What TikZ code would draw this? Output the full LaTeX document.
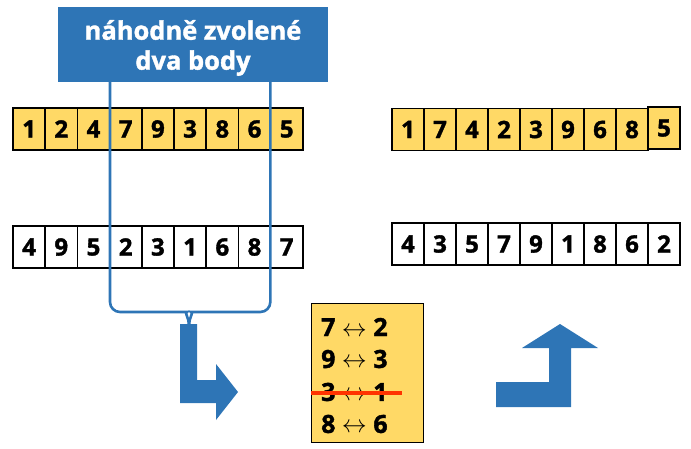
\documentclass[tikz,border=0pt]{standalone}
\usepackage{fontspec}
\setmainfont{Open Sans}
\newfontfamily\heavyfont[BoldFeatures={FakeBold=1.5}]{Open Sans}
\usetikzlibrary{positioning,calc}
\definecolor{cellyel}{HTML}{FFD966}
\definecolor{boxblue}{HTML}{2E75B6}
\definecolor{strikered}{HTML}{FF3300}
\tikzset{
  cell/.style={draw,line width=1.6pt,minimum width=32.2pt,minimum height=42pt,inner sep=0pt,
    font=\heavyfont\bfseries\fontsize{24}{26}\selectfont},
  gene/.style={cell,fill=cellyel},
  swapline/.style={anchor=west,inner sep=0pt,font=\heavyfont\bfseries\fontsize{25}{27}\selectfont},
  bracket/.style={draw=boxblue,line width=2.6pt,rounded corners=10pt},
  fatarrow/.style={fill=boxblue}
}
\begin{document}
\begin{tikzpicture}[x=1pt,y=-1pt]
  \useasboundingbox (0,0) rectangle (691,449);
  % title box
  \node[fill=boxblue,minimum width=270pt,minimum height=75pt] (title) at (193,44.5) {};
  \node[text=white,align=center,font=\heavyfont\bfseries\fontsize{25.5}{30}\selectfont]
    (titletext) at (193,48) {náhodně zvolené\\dva body};
  % parents
  \foreach \v [count=\i] in {1,2,4,7,9,3,8,6,5}
    \node[gene] (pa\i) at ({13+32.2*(\i-0.5)},129) {\v};
  \foreach \v [count=\i] in {4,9,5,2,3,1,6,8,7}
    \node[cell] (pb\i) at ({13+32.2*(\i-0.5)},247) {\v};
  % offspring
  \foreach \v [count=\i] in {1,7,4,2,3,9,6,8}
    \node[gene,minimum width=32pt] (ca\i) at ({392+32*(\i-0.5)},129.5) {\v};
  \node[gene,minimum width=32pt] (ca9) at (664,128) {5};
  \foreach \v [count=\i] in {4,3,5,7,9,1,8,6,2}
    \node[cell,minimum width=32pt] (cb\i) at ({392+32*(\i-0.5)},244) {\v};
  % cut points bracket
  \coordinate (cutl) at ($(title.south west)!0.193!(title.south east)$);
  \coordinate (cutr) at ($(title.south west)!0.786!(title.south east)$);
  \coordinate (join) at (189,325);
  \draw[bracket] (cutl) -- (cutl |- 0,312) -- (177,312) to[out=0,in=90] (join);
  \draw[bracket] (cutr) -- (cutr |- 0,312) -- (201,312) to[out=180,in=90] (join);
  % swap list
  \node[draw,fill=cellyel,line width=0.8pt,minimum width=112pt,minimum height=139pt,inner sep=0pt] (swaps) at (367,372.5) {};
  \node[swapline] (s1) at (321,327) {7 $\leftrightarrow$ 2};
  \node[swapline] (s2) at (321,359) {9 $\leftrightarrow$ 3};
  \node[swapline] (s3) at (321,392) {3 $\leftrightarrow$ 1};
  \node[swapline] (s4) at (321,424) {8 $\leftrightarrow$ 6};
  \draw[strikered,line width=3.5pt] (swaps.west |- 0,393) -- (402,393);
  % arrows
  \fill[fatarrow] (180,324) -- (197,324) -- (197,380) -- (216,380) -- (216,364) -- (238,392)
    -- (216,420) -- (216,403) -- (180,403) -- cycle;
  \fill[fatarrow] (496,382) -- (549,382) -- (549,348) -- (522,348) -- (560,324) -- (598,348)
    -- (571,348) -- (571,407) -- (496,407) -- cycle;
\end{tikzpicture}
\end{document}
